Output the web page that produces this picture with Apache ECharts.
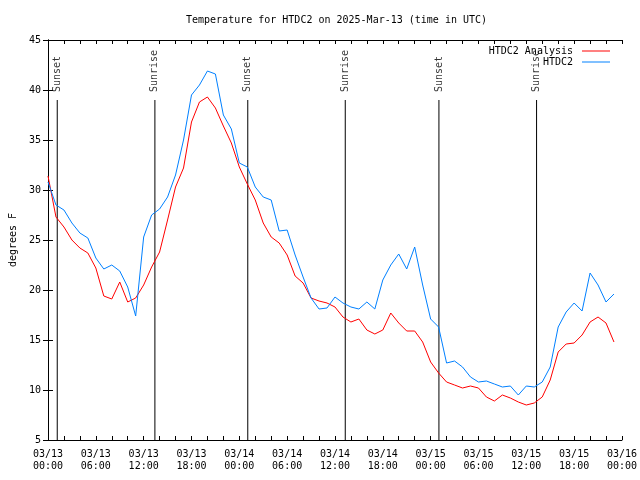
<!DOCTYPE html>
<html>
<head>
<meta charset="utf-8">
<script src="https://cdn.jsdelivr.net/npm/echarts@6/dist/echarts.min.js"></script>
<style>html,body{margin:0;padding:0;background:#fff}#c{width:640px;height:480px}</style>
</head>
<body>
<div id="c"></div>
<script>
// Hourly values, hour 0 = 03/13 00:00 UTC
const analysisTemps = [31.4,27.3,26.3,25.0,24.2,23.7,22.2,19.4,19.1,20.8,18.8,19.2,20.5,22.3,23.8,27.0,30.3,32.2,36.8,38.8,39.3,38.2,36.4,34.7,
  32.3,30.6,29.0,26.7,25.3,24.7,23.5,21.4,20.7,19.2,18.9,18.7,18.3,17.3,16.8,17.1,16.0,15.6,16.0,17.7,16.7,15.9,15.9,14.8,
  12.8,11.7,10.8,10.5,10.2,10.4,10.2,9.3,8.9,9.5,9.2,8.8,8.5,8.7,9.3,11.0,13.8,14.6,14.7,15.5,16.8,17.3,16.7,14.8];
const stationTemps = [30.8,28.5,28.0,26.7,25.7,25.2,23.2,22.1,22.5,21.9,20.3,17.4,25.3,27.5,28.1,29.3,31.5,35.0,39.5,40.5,41.9,41.6,37.5,36.1,
  32.7,32.3,30.3,29.3,29.0,25.9,26.0,23.5,21.3,19.2,18.1,18.2,19.3,18.7,18.3,18.1,18.8,18.1,21.0,22.5,23.6,22.1,24.3,20.5,
  17.1,16.3,12.7,12.9,12.3,11.3,10.8,10.9,10.6,10.3,10.4,9.5,10.4,10.3,10.8,12.3,16.3,17.8,18.7,17.9,21.7,20.5,18.8,19.6];
const xTickLabels = ['03/13\n00:00','03/13\n06:00','03/13\n12:00','03/13\n18:00','03/14\n00:00','03/14\n06:00','03/14\n12:00',
  '03/14\n18:00','03/15\n00:00','03/15\n06:00','03/15\n12:00','03/15\n18:00','03/16\n00:00'];
const sunHours = [1.16, 13.41, 25.06, 37.29, 49.04, 61.29];
const sunNames = ['Sunset','Sunrise','Sunset','Sunrise','Sunset','Sunrise'];
const seriesNames = ['HTDC2 Analysis','HTDC2'];

const FONT = 'DejaVu Sans Mono';
const toPairs = arr => arr.map((v, i) => [i, v]);

const series = [];
sunHours.forEach((h, i) => {
  series.push({
    type: 'line', xAxisIndex: 0, yAxisIndex: 0, silent: true,
    data: [[h, 5], [h, 39]], symbol: 'none',
    lineStyle: { color: '#000', width: 1 }, z: 1
  });
  series.push({
    type: 'scatter', xAxisIndex: 0, yAxisIndex: 0, silent: true,
    data: [[h, 39.8]], symbolSize: 1, itemStyle: { color: 'rgba(0,0,0,0)' },
    label: { show: true, formatter: sunNames[i], position: 'inside', rotate: 90,
      align: 'left', verticalAlign: 'middle', color: '#000', fontFamily: FONT, fontSize: 10 },
    z: 1
  });
});
series.push({
  name: seriesNames[0], type: 'line', data: toPairs(analysisTemps), symbol: 'none',
  lineStyle: { color: '#ff0000', width: 1 }, itemStyle: { color: '#ff0000' }, z: 3
});
series.push({
  name: seriesNames[1], type: 'line', data: toPairs(stationTemps), symbol: 'none',
  lineStyle: { color: '#0080ff', width: 1 }, itemStyle: { color: '#0080ff' }, z: 4
});

const axisLine = { show: true, lineStyle: { color: '#000', width: 1 } };
const chart = echarts.init(document.getElementById('c'), null, { renderer: 'canvas' });
chart.setOption({
  animation: false,
  backgroundColor: '#fff',
  textStyle: { fontFamily: FONT, color: '#000' },
  title: {
    text: 'Temperature for HTDC2 on 2025-Mar-13 (time in UTC)',
    left: 181, top: 10,
    textStyle: { fontFamily: FONT, fontSize: 10, fontWeight: 'normal', color: '#000' }
  },
  legend: {
    orient: 'vertical', right: 25, top: 41, align: 'right',
    itemWidth: 28, itemHeight: 1, itemGap: 1, icon: 'rect',
    data: seriesNames,
    textStyle: { fontFamily: FONT, fontSize: 10, color: '#000', padding: [0, 4, 0, 0] }
  },
  grid: { left: 45, right: 18, top: 40, bottom: 40, containLabel: false },
  xAxis: [{
    type: 'value', min: 0, max: 72, interval: 2, position: 'bottom',
    axisLine, splitLine: { show: false },
    axisTick: { show: true, inside: true, length: 4, lineStyle: { color: '#000' } },
    axisLabel: {
      margin: 8, fontFamily: FONT, fontSize: 10, color: '#000', lineHeight: 12,
      formatter: v => (v % 6 === 0 ? xTickLabels[v / 6] : '')
    }
  }, {
    type: 'value', min: 0, max: 72, interval: 2, position: 'top',
    axisLine, splitLine: { show: false },
    axisTick: { show: true, inside: true, length: 4, lineStyle: { color: '#000' } },
    axisLabel: { show: false }
  }],
  yAxis: [{
    type: 'value', min: 5, max: 45, interval: 5, position: 'left',
    name: 'degrees F', nameLocation: 'middle', nameGap: 30, nameRotate: 90,
    nameTextStyle: { fontFamily: FONT, fontSize: 10, color: '#000' },
    axisLine, splitLine: { show: false },
    axisTick: { show: true, inside: true, length: 5, lineStyle: { color: '#000' } },
    axisLabel: { margin: 7, fontFamily: FONT, fontSize: 10, color: '#000' }
  }, {
    type: 'value', min: 5, max: 45, interval: 5, position: 'right',
    axisLine, splitLine: { show: false },
    axisTick: { show: true, inside: true, length: 5, lineStyle: { color: '#000' } },
    axisLabel: { show: false }
  }],
  series
});
</script>
</body>
</html>
